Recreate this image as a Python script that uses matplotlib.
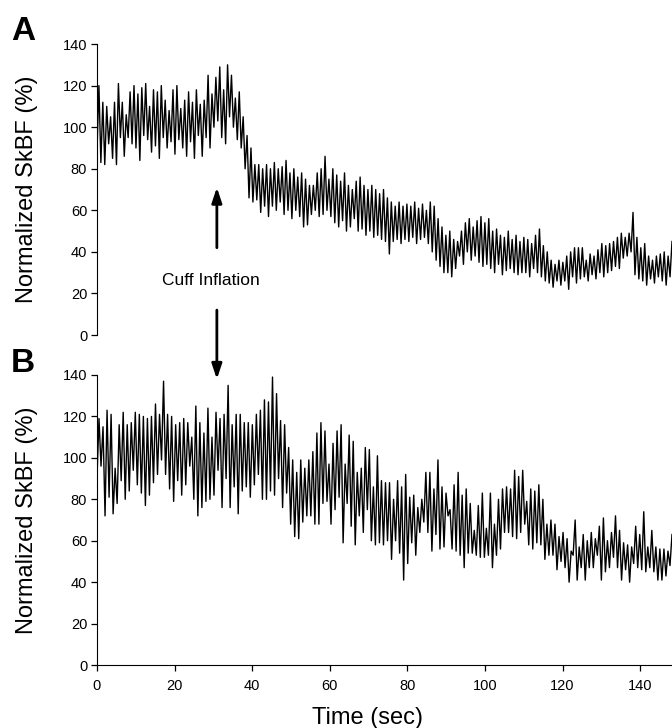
from matplotlib import pyplot as plt
import numpy as np

T_END = 148.2

# panel A, one peak and one trough per second
a_peaks = [120, 112, 110, 105, 112, 121, 112, 106, 117, 120,
           116, 119, 121, 110, 118, 117, 120, 113, 108, 118,
           120, 109, 113, 117, 112, 118, 111, 113, 125, 116,
           124, 129, 118, 130, 125, 114, 117, 105, 96, 90,
           82, 82, 80, 82, 80, 83, 80, 81, 84, 78,
           80, 76, 78, 75, 72, 72, 78, 80, 86, 75,
           80, 77, 74, 78, 72, 70, 74, 76, 72, 70,
           72, 70, 68, 70, 66, 64, 62, 64, 62, 63,
           62, 64, 61, 63, 60, 64, 62, 56, 52, 48,
           50, 46, 45, 50, 54, 56, 52, 55, 57, 54,
           56, 50, 51, 48, 47, 50, 46, 48, 45, 47,
           46, 44, 48, 51, 43, 40, 36, 34, 36, 35,
           38, 40, 42, 42, 42, 36, 39, 38, 41, 44,
           43, 44, 45, 47, 49, 47, 49, 59, 47, 42,
           44, 38, 36, 38, 39, 40, 38, 45]
a_troughs = [88, 83, 82, 92, 85, 82, 95, 86, 95, 92,
             90, 84, 96, 94, 88, 91, 85, 95, 90, 93,
             87, 94, 90, 86, 93, 85, 96, 86, 95, 90,
             100, 103, 95, 92, 105, 100, 94, 90, 80, 66,
             64, 65, 59, 62, 57, 62, 60, 64, 58, 60,
             56, 60, 57, 52, 53, 58, 60, 57, 58, 60,
             57, 54, 52, 55, 50, 52, 56, 50, 51, 48,
             50, 47, 48, 46, 45, 39, 45, 46, 44, 46,
             45, 47, 44, 46, 47, 44, 40, 36, 33, 30,
             30, 28, 32, 38, 34, 40, 36, 38, 35, 33,
             34, 32, 30, 34, 29, 31, 32, 30, 29, 30,
             30, 28, 32, 30, 28, 26, 25, 23, 26, 24,
             26, 22, 28, 25, 27, 28, 26, 29, 27, 30,
             28, 30, 31, 33, 32, 37, 38, 40, 29, 27,
             26, 24, 27, 25, 28, 26, 24, 28]

# panel B, peaks and troughs in time order
b_peaks = [119, 115, 123, 121, 95, 116, 122, 116, 117, 122,
           121, 120, 119, 120, 126, 121, 137, 121, 120, 116,
           117, 119, 117, 110, 125, 117, 112, 124, 110, 122,
           119, 121, 135, 116, 121, 121, 117,
           117, 116, 121, 123, 128, 127, 139, 131, 118, 116,
           105, 99, 93, 99, 95, 99, 103, 112, 117, 113,
           97, 107, 113, 116, 97, 111, 108, 93, 95, 105,
           104, 86, 101, 89, 88, 88,
           80, 89, 86, 92, 81, 82, 76, 80, 93, 93,
           85, 99, 86, 83, 75, 87, 93, 82, 85, 78,
           65, 77, 83, 66, 83, 68, 80, 85, 86, 85,
           94, 91, 94, 79, 85, 84,
           87, 80, 68, 70, 68, 62,
           64, 61, 55, 70, 57, 63, 60, 64, 61, 67,
           71, 60, 64, 72, 65, 59, 58, 57, 67, 63,
           74, 57, 65, 57, 56, 56, 55, 63]
b_troughs = [90, 96, 72, 81, 73, 78, 89, 80, 84, 94,
             87, 83, 77, 82, 88, 92, 99, 92, 85, 79,
             89, 82, 87, 96, 80, 72, 76, 79, 80, 82,
             94, 76, 90, 76, 86, 73, 84,
             86, 81, 87, 92, 80, 80, 84, 82, 90, 76,
             83, 68, 62, 61, 69, 72, 72, 68, 68, 78,
             79, 68, 75, 81, 59, 78, 67, 58, 72, 64,
             75, 60, 58, 59, 58, 60,
             51, 60, 54, 41, 49, 59, 53, 64, 69, 64,
             55, 63, 56, 57, 72, 56, 55, 53, 47, 54,
             54, 53, 52, 52, 53, 47, 53, 56, 64, 64,
             62, 61, 64, 68, 58, 56,
             59, 58, 51, 53, 53, 46,
             50, 47, 40, 53, 41, 47, 41, 47, 47, 53,
             41, 45, 47, 52, 47, 41, 46, 40, 49, 47,
             46, 45, 47, 45, 41, 41, 43, 48]

y_ticks = [0, 20, 40, 60, 80, 100, 120, 140]
x_ticks = [0, 20, 40, 60, 80, 100, 120, 140]


def trace(peaks, troughs):
  vals = np.column_stack([troughs, peaks]).ravel()
  t = np.linspace(0, T_END, len(vals))
  return t, vals


def style_axis(ax):
  ax.spines['top'].set_visible(False)
  ax.spines['right'].set_visible(False)
  ax.set_xlim(0, T_END)
  ax.set_ylim(0, 140)
  ax.set_yticks(y_ticks)
  ax.tick_params(direction='out', length=4, width=0.9, labelsize=10.5, pad=3)
  ax.set_ylabel('Normalized SkBF (%)', fontsize=17)
  ax.yaxis.set_label_coords(-0.102, 0.5)


plt.rcParams['font.family'] = ['Liberation Sans', 'DejaVu Sans']

fig = plt.figure(figsize=(6.72, 7.28), dpi=100)
ax_a = fig.add_axes([0.1443, 0.5398, 0.8557, 0.3997])
ax_b = fig.add_axes([0.1443, 0.0865, 0.8557, 0.3984])

ta, va = trace(a_peaks, a_troughs)
tb, vb = trace(b_peaks, b_troughs)
ax_a.plot(ta, va, color='black', lw=1.0)
ax_b.plot(tb, vb, color='black', lw=1.0)

style_axis(ax_a)
style_axis(ax_b)
ax_a.spines['bottom'].set_visible(False)
ax_a.set_xticks([])
ax_b.set_xticks(x_ticks)
ax_b.tick_params(axis='x', pad=6)
ax_b.set_xlabel('Time (sec)', fontsize=17)
ax_b.xaxis.set_label_coords(0.471, -0.145)

arrow = dict(arrowstyle='-|>,head_length=0.6,head_width=0.2', color='black',
             lw=2, mutation_scale=15, shrinkA=0, shrinkB=0)
ax_a.annotate('', xy=(30.9, 71), xytext=(30.9, 42), arrowprops=arrow)
ax_b.annotate('', xy=(30.9, 138), xytext=(30.9, 12), textcoords=ax_a.transData,
              annotation_clip=False, arrowprops=arrow)
ax_a.text(29.4, 26, 'Cuff Inflation', ha='center', va='center', fontsize=12.5)

fig.text(0.016, 0.945, 'A', fontsize=24, fontweight='bold')
fig.text(0.016, 0.489, 'B', fontsize=24, fontweight='bold')

fig.savefig('out.png', dpi=100)
